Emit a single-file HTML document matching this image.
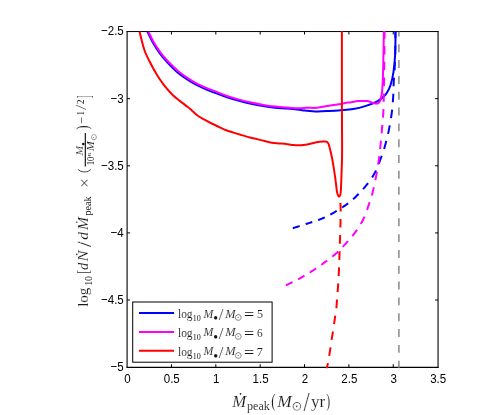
<!DOCTYPE html>
<html><head><meta charset="utf-8"><title>plot</title>
<style>
html,body{margin:0;padding:0;background:#fff;}
svg{display:block;}
.tk{font-family:"Liberation Sans",sans-serif;font-size:13px;fill:#000;}
.rm{font-family:"Liberation Serif",serif;font-style:normal;fill:#181818;stroke:#fff;stroke-width:0.008em;}
.it{font-family:"Liberation Serif",serif;font-style:italic;fill:#181818;stroke:#fff;stroke-width:0.008em;}
.rs{font-family:"Liberation Serif",serif;font-style:normal;fill:#111;}
.sun{font-family:"DejaVu Serif","DejaVu Sans",serif;font-style:normal;}
.ms{font-family:"DejaVu Math TeX Gyre","DejaVu Serif",serif;font-style:normal;fill:#222;stroke:#fff;stroke-width:0.03em;}
</style></head><body>
<svg width="485" height="415" viewBox="0 0 485 415">
<rect x="0" y="0" width="485" height="415" fill="#ffffff"/>
<defs><filter id="gs" filterUnits="userSpaceOnUse" x="0" y="0" width="485" height="415" color-interpolation-filters="sRGB"><feColorMatrix type="saturate" values="0"/></filter><clipPath id="ax"><rect x="126.65" y="31.30" width="311.85" height="337.00"/></clipPath></defs>

<g stroke="#000" fill="none">
<path d="M126.65,31.55 H438.55" stroke-width="1"/>
<path d="M126.65,367.30 H438.55" stroke-width="1.3"/>
<path d="M127.10,31.05 V367.95" stroke-width="1.1"/>
<path d="M438.05,31.05 V367.95" stroke-width="1.1"/>
<path d="M171.46,367.10 v-2.90 M171.46,31.60 v2.90 M215.82,367.10 v-2.90 M215.82,31.60 v2.90 M260.18,367.10 v-2.90 M260.18,31.60 v2.90 M304.54,367.10 v-2.90 M304.54,31.60 v2.90 M348.90,367.10 v-2.90 M348.90,31.60 v2.90 M393.26,367.10 v-2.90 M393.26,31.60 v2.90 M127.15,98.70 h2.90 M438.00,98.70 h-2.90 M127.15,165.80 h2.90 M438.00,165.80 h-2.90 M127.15,232.90 h2.90 M438.00,232.90 h-2.90 M127.15,300.00 h2.90 M438.00,300.00 h-2.90 " stroke="#000" stroke-width="1"/>
</g>
<g clip-path="url(#ax)" fill="none" stroke-linejoin="round">
<path d="M398.90,31.60 V369.10" stroke="#808080" stroke-width="1.4" stroke-dasharray="7.95 7.87" stroke-dashoffset="3.12"/>
<path d="M147.40,31.60 C148.33,33.47 150.87,39.07 153.00,42.80 C155.13,46.53 157.78,50.72 160.20,54.00 C162.62,57.28 164.70,59.52 167.50,62.50 C170.30,65.48 173.78,69.13 177.00,71.90 C180.22,74.67 183.55,76.93 186.80,79.10 C190.05,81.27 193.30,83.20 196.50,84.90 C199.70,86.60 202.92,87.97 206.00,89.30 C209.08,90.63 211.50,91.58 215.00,92.90 C218.50,94.22 222.98,95.88 227.00,97.20 C231.02,98.52 235.08,99.70 239.10,100.80 C243.12,101.90 247.08,102.92 251.10,103.80 C255.12,104.68 259.18,105.45 263.20,106.10 C267.22,106.75 271.18,107.28 275.20,107.70 C279.22,108.12 283.28,108.25 287.30,108.60 C291.32,108.95 296.35,109.48 299.30,109.80 C302.25,110.12 302.05,110.23 305.00,110.50 C307.95,110.77 312.98,111.32 317.00,111.40 C321.02,111.48 325.08,111.20 329.10,111.00 C333.12,110.80 337.08,110.53 341.10,110.20 C345.12,109.87 349.18,109.68 353.20,109.00 C357.22,108.32 361.18,107.38 365.20,106.10 C369.22,104.82 374.35,102.80 377.30,101.30 C380.25,99.80 381.40,98.35 382.90,97.10 C384.40,95.85 385.03,95.77 386.30,93.80 C387.57,91.83 389.30,88.97 390.50,85.30 C391.70,81.63 392.72,77.13 393.50,71.80 C394.28,66.47 394.87,60.27 395.20,53.30 C395.53,46.33 395.45,33.88 395.50,30.00" stroke="#0000ff" stroke-width="2"/>
<path d="M292.90,228.20 L293.44,228.03 L294.09,227.82 L294.84,227.59 L295.68,227.33 L296.59,227.04 L297.57,226.73 L298.60,226.41 L299.67,226.07 M305.67,224.16 L306.73,223.81 L307.75,223.48 L308.71,223.16 L309.70,222.84 L310.69,222.51 L311.66,222.20 L312.25,222.01 M318.13,220.08 L319.07,219.74 L320.00,219.39 L320.94,219.03 L321.89,218.65 L322.83,218.25 L323.76,217.84 L324.65,217.43 L324.83,217.35 M330.33,214.56 L331.22,214.08 L332.11,213.58 L333.00,213.08 L333.88,212.56 L334.77,212.04 L335.66,211.51 L336.55,210.97 L336.73,210.86 M342.08,207.52 L342.90,206.99 L343.72,206.45 L344.55,205.90 L345.37,205.34 L346.20,204.77 L347.02,204.19 L347.85,203.58 L348.18,203.34 M353.14,199.25 L353.85,198.60 L354.57,197.93 L355.29,197.23 L356.03,196.52 L356.76,195.79 L357.50,195.04 L358.24,194.29 L358.68,193.83 M363.09,189.05 L363.76,188.29 L364.41,187.55 L365.04,186.81 L365.65,186.09 L366.24,185.38 L366.80,184.70 L367.53,183.79 L368.09,183.08 M372.12,177.42 L372.63,176.60 L373.12,175.79 L373.61,174.96 L374.09,174.12 L374.56,173.27 L375.03,172.41 L375.49,171.52 L375.95,170.61 L376.04,170.42 M378.78,163.77 L379.15,162.76 L379.51,161.79 L379.85,160.85 L380.17,159.95 L380.48,159.10 L380.77,158.31 L381.04,157.60 L381.46,156.57 L381.76,155.88 M384.10,149.08 L384.35,148.20 L384.60,147.28 L384.87,146.32 L385.14,145.32 L385.42,144.29 L385.70,143.24 L385.98,142.18 L386.26,141.10 L386.32,140.88 M388.04,133.87 L388.26,132.89 L388.48,131.89 L388.69,130.88 L388.90,129.86 L389.11,128.84 L389.31,127.82 L389.50,126.81 L389.69,125.79 L389.77,125.38 M390.99,118.18 L391.14,117.21 L391.28,116.25 L391.42,115.31 L391.55,114.37 L391.69,113.35 L391.83,112.30 L391.96,111.26 L392.07,110.25 L392.14,109.65 M392.81,102.25 L392.88,101.27 L392.95,100.26 L393.02,99.25 L393.09,98.21 L393.15,97.22 L393.20,96.23 L393.26,95.20 L393.30,94.16 L393.32,93.73 M393.57,86.26 L393.60,85.24 L393.64,84.24 L393.67,83.28 L393.71,82.35 L393.74,81.46 L393.78,80.62 L393.84,79.51 L393.92,78.34 L393.97,77.70 M394.59,70.26 L394.63,69.34 L394.68,68.50 L394.72,67.63 L394.76,66.75 L394.80,65.83 L394.84,64.90 L394.87,63.94 L394.91,62.96 L394.95,61.96 L394.96,61.75 M395.18,54.26 L395.20,53.13 L395.22,52.22 L395.24,51.25 L395.26,50.23 L395.28,49.17 L395.29,48.07 L395.31,46.94 L395.33,45.78 L395.33,45.55 M395.41,38.09 L395.43,37.00 L395.44,35.94 L395.45,34.92 L395.46,33.96 L395.47,33.06 L395.47,32.23 L395.48,31.47 L395.49,30.80 L395.50,30.21 L395.50,30.00 " stroke="#0000ff" stroke-width="2"/>
<path d="M148.40,31.60 C149.32,33.42 151.78,38.88 153.90,42.50 C156.02,46.12 158.68,50.10 161.10,53.30 C163.52,56.50 165.58,58.77 168.40,61.70 C171.22,64.63 174.78,68.17 178.00,70.90 C181.22,73.63 184.48,75.93 187.70,78.10 C190.92,80.27 194.10,82.22 197.30,83.90 C200.50,85.58 203.68,86.87 206.90,88.20 C210.12,89.53 213.25,90.60 216.60,91.90 C219.95,93.20 223.25,94.72 227.00,96.00 C230.75,97.28 235.08,98.52 239.10,99.60 C243.12,100.68 247.08,101.62 251.10,102.50 C255.12,103.38 259.18,104.22 263.20,104.90 C267.22,105.58 271.18,106.15 275.20,106.60 C279.22,107.05 283.28,107.32 287.30,107.60 C291.32,107.88 296.08,108.27 299.30,108.30 C302.52,108.33 303.65,107.88 306.60,107.80 C309.55,107.72 313.25,108.15 317.00,107.80 C320.75,107.45 325.08,106.35 329.10,105.70 C333.12,105.05 338.45,104.35 341.10,103.90 C343.75,103.45 343.32,103.28 345.00,103.00 C346.68,102.72 349.13,102.52 351.20,102.20 C353.27,101.88 355.52,101.32 357.40,101.10 C359.28,100.88 360.85,100.90 362.50,100.90 C364.15,100.90 365.88,100.88 367.30,101.10 C368.72,101.32 369.92,101.85 371.00,102.20 C372.08,102.55 372.70,103.00 373.80,103.20 C374.90,103.40 376.67,103.60 377.60,103.40 C378.53,103.20 378.90,102.65 379.40,102.00 C379.90,101.35 380.17,101.10 380.60,99.50 C381.03,97.90 381.63,95.65 382.00,92.40 C382.37,89.15 382.58,85.12 382.80,80.00 C383.02,74.88 383.12,70.03 383.30,61.70 C383.48,53.37 383.80,35.28 383.90,30.00" stroke="#ff00ff" stroke-width="2"/>
<path d="M285.90,285.30 L286.41,285.05 L287.02,284.76 L287.73,284.42 L288.53,284.05 L289.39,283.64 L290.32,283.20 L291.29,282.74 L292.31,282.25 L292.51,282.15 M298.12,279.32 L299.06,278.81 L299.89,278.35 L300.73,277.89 L301.57,277.41 L302.42,276.92 L303.28,276.43 L304.15,275.92 L304.49,275.72 M309.75,272.53 L310.62,271.98 L311.49,271.43 L312.36,270.87 L313.23,270.31 L314.06,269.77 L314.89,269.22 L315.73,268.66 L316.06,268.43 M321.28,264.81 L322.11,264.21 L322.94,263.62 L323.75,263.02 L324.56,262.43 L325.35,261.84 L326.13,261.26 L326.90,260.68 L327.20,260.45 M332.30,256.59 L333.01,256.03 L333.73,255.46 L334.45,254.87 L335.18,254.25 L335.93,253.60 L336.70,252.90 L337.50,252.16 L338.17,251.52 M342.70,246.87 L343.39,246.13 L344.10,245.38 L344.81,244.60 L345.53,243.82 L346.25,243.02 L346.97,242.21 L347.70,241.40 L347.99,241.07 M352.27,236.07 L352.91,235.30 L353.52,234.54 L354.11,233.81 L354.67,233.09 L355.20,232.40 L355.91,231.45 L356.59,230.52 L357.10,229.79 M360.80,223.96 L361.26,223.13 L361.71,222.31 L362.14,221.49 L362.57,220.67 L362.99,219.84 L363.41,219.01 L363.82,218.17 L364.27,217.23 L364.53,216.64 M367.07,209.85 L367.39,208.88 L367.70,207.94 L367.99,207.02 L368.28,206.13 L368.56,205.28 L368.84,204.47 L369.18,203.50 L369.60,202.27 L369.69,202.03 " stroke="#ff00ff" stroke-width="2"/>
<path d="M371.90,195.40 L372.04,194.82 L372.21,194.10 L372.41,193.26 L372.64,192.31 L372.89,191.28 L373.15,190.18 L373.42,189.04 L373.69,187.88 L373.85,187.19 M375.35,180.15 L375.55,179.17 L375.75,178.17 L375.95,177.16 L376.14,176.15 L376.33,175.12 L376.53,174.09 L376.71,173.05 L376.90,172.00 L376.93,171.81 M378.13,164.58 L378.28,163.57 L378.43,162.56 L378.58,161.53 L378.73,160.51 L378.88,159.47 L379.02,158.43 L379.15,157.42 L379.27,156.45 L379.30,156.26 M380.11,149.08 L380.21,148.07 L380.32,147.05 L380.42,146.04 L380.52,145.02 L380.62,144.01 L380.72,143.00 L380.82,142.00 L380.92,141.00 L380.96,140.59 M381.62,133.35 L381.71,132.34 L381.79,131.33 L381.88,130.33 L381.96,129.32 L382.05,128.31 L382.13,127.31 L382.22,126.30 L382.30,125.29 L382.34,124.89 M382.94,117.58 L383.02,116.57 L383.10,115.56 L383.17,114.56 L383.24,113.56 L383.30,112.57 L383.36,111.58 L383.41,110.59 L383.46,109.56 L383.48,109.15 M383.69,101.78 L383.71,100.79 L383.73,99.80 L383.74,98.83 L383.76,97.87 L383.78,96.93 L383.80,96.00 L383.82,94.95 L383.84,93.97 L383.85,93.41 M383.96,86.11 L383.98,84.92 L384.00,83.60 L384.01,82.80 L384.02,81.99 L384.04,81.15 L384.05,80.30 L384.06,79.42 L384.08,78.53 L384.09,77.61 M384.19,70.22 L384.21,69.14 L384.22,68.03 L384.24,66.90 L384.25,65.76 L384.27,64.59 L384.28,63.40 L384.29,62.19 L384.30,61.70 M384.37,54.51 L384.39,53.38 L384.40,52.24 L384.41,51.07 L384.42,49.90 L384.43,48.72 L384.44,47.54 L384.45,46.36 L384.46,45.89 M384.52,38.65 L384.53,37.61 L384.54,36.61 L384.55,35.64 L384.56,34.72 L384.56,33.84 L384.57,33.02 L384.58,32.25 L384.59,31.54 L384.59,30.89 L384.60,30.31 L384.60,30.21 " stroke="#ff00ff" stroke-width="2"/>
<path d="M139.50,31.60 C140.30,34.62 142.70,44.88 144.30,49.70 C145.90,54.52 147.10,56.48 149.10,60.50 C151.10,64.52 153.88,69.78 156.30,73.80 C158.72,77.82 160.78,80.98 163.60,84.60 C166.42,88.22 169.60,92.08 173.20,95.50 C176.80,98.92 182.40,102.88 185.20,105.10 C188.00,107.32 188.00,107.10 190.00,108.80 C192.00,110.50 194.78,113.50 197.20,115.30 C199.62,117.10 202.08,118.23 204.50,119.60 C206.92,120.97 209.30,122.28 211.70,123.50 C214.10,124.72 216.50,125.78 218.90,126.90 C221.30,128.02 223.68,129.25 226.10,130.20 C228.52,131.15 230.98,131.83 233.40,132.60 C235.82,133.37 237.83,133.98 240.60,134.80 C243.37,135.62 247.23,136.78 250.00,137.50 C252.77,138.22 254.78,138.52 257.20,139.10 C259.62,139.68 262.08,140.40 264.50,141.00 C266.92,141.60 269.30,142.30 271.70,142.70 C274.10,143.10 276.50,143.20 278.90,143.40 C281.30,143.60 283.68,143.62 286.10,143.90 C288.52,144.18 290.98,144.87 293.40,145.10 C295.82,145.33 298.30,145.42 300.60,145.30 C302.90,145.18 304.88,144.82 307.20,144.40 C309.52,143.98 312.45,143.25 314.50,142.80 C316.55,142.35 317.62,141.90 319.50,141.70 C321.38,141.50 324.38,141.38 325.80,141.60 C327.22,141.82 327.43,142.27 328.00,143.00 C328.57,143.73 328.77,144.58 329.20,146.00 C329.63,147.42 330.22,149.92 330.60,151.50 C330.98,153.08 331.08,153.45 331.50,155.50 C331.92,157.55 332.47,160.00 333.10,163.80 C333.73,167.60 334.70,173.97 335.30,178.30 C335.90,182.63 336.32,187.13 336.70,189.80 C337.08,192.47 337.23,193.17 337.60,194.30 C337.97,195.43 338.45,196.52 338.90,196.60 C339.35,196.68 339.97,195.90 340.30,194.80 C340.63,193.70 340.70,193.48 340.90,190.00 C341.10,186.52 341.32,178.98 341.50,173.90 C341.68,168.82 341.90,164.32 342.00,159.50 C342.10,154.68 342.12,154.92 342.10,145.00 C342.08,135.08 341.93,119.17 341.90,100.00 C341.87,80.83 341.90,41.67 341.90,30.00" stroke="#ff0000" stroke-width="2"/>
<path d="M340.23,202.82 L340.37,203.75 L340.49,204.90 L340.57,206.33 L340.61,207.43 L340.63,208.22 L340.64,209.06 L340.65,209.96 L340.65,210.91 L340.65,211.50 M340.57,219.00 L340.55,220.08 L340.53,221.15 L340.52,222.19 L340.50,223.20 L340.48,224.20 L340.45,225.20 L340.43,226.20 L340.40,227.20 L340.39,227.60 M340.13,235.00 L340.10,236.00 L340.07,237.00 L340.03,238.00 L340.00,239.00 L339.97,240.00 L339.94,241.00 L339.91,242.00 L339.88,243.00 L339.85,243.80 M339.63,251.20 L339.59,252.20 L339.56,253.20 L339.53,254.20 L339.49,255.20 L339.46,256.21 L339.42,257.22 L339.39,258.25 L339.35,259.28 L339.33,259.89 M339.05,267.41 L339.01,268.38 L338.97,269.33 L338.93,270.27 L338.89,271.22 L338.84,272.31 L338.79,273.36 L338.74,274.39 L338.70,275.39 L338.67,275.98 M338.24,283.38 L338.17,284.39 L338.11,285.37 L338.03,286.37 L337.96,287.38 L337.88,288.39 L337.80,289.42 L337.71,290.45 L337.63,291.47 L337.58,292.09 M336.99,299.52 L336.91,300.59 L336.84,301.66 L336.77,302.72 L336.70,303.76 L336.63,304.78 L336.57,305.78 L336.49,306.76 L336.42,307.70 L336.37,308.25 M335.30,315.62 L335.12,316.62 L334.94,317.75 L334.80,318.69 L334.67,319.59 L334.53,320.55 L334.39,321.54 L334.25,322.56 L334.11,323.60 L334.05,324.02 M332.97,331.47 L332.80,332.51 L332.63,333.56 L332.46,334.59 L332.29,335.62 L332.12,336.63 L331.95,337.62 L331.79,338.59 L331.63,339.54 L331.57,339.91 M330.51,347.34 L330.37,348.38 L330.20,349.50 L330.06,350.41 L329.91,351.39 L329.75,352.41 L329.59,353.47 L329.42,354.54 L329.25,355.62 L329.22,355.83 M327.93,363.11 L327.70,364.20 L327.48,365.21 L327.27,366.12 L327.09,366.95 L326.93,367.67 L326.62,369.05 L326.45,369.80 L326.40,370.00 " stroke="#ff0000" stroke-width="2"/>
</g>
<g><rect x="132.7" y="302.0" width="139.4" height="60.2" fill="#fff" stroke="#000" stroke-width="1"/><path d="M139.0,313.10 H174.1" stroke="#0000ff" stroke-width="2" fill="none"/><path d="M139.0,331.95 H174.1" stroke="#ff00ff" stroke-width="2" fill="none"/><path d="M139.0,350.80 H174.1" stroke="#ff0000" stroke-width="2" fill="none"/></g>
<g filter="url(#gs)">
<g class="tk">
<text transform="translate(127.35,382.50) scale(0.890,1)" text-anchor="middle">0</text>
<text transform="translate(171.76,382.50) scale(0.890,1)" text-anchor="middle">0.5</text>
<text transform="translate(216.16,382.50) scale(0.890,1)" text-anchor="middle">1</text>
<text transform="translate(260.57,382.50) scale(0.890,1)" text-anchor="middle">1.5</text>
<text transform="translate(304.98,382.50) scale(0.890,1)" text-anchor="middle">2</text>
<text transform="translate(349.39,382.50) scale(0.890,1)" text-anchor="middle">2.5</text>
<text transform="translate(393.79,382.50) scale(0.890,1)" text-anchor="middle">3</text>
<text transform="translate(438.20,382.50) scale(0.890,1)" text-anchor="middle">3.5</text>
<text transform="translate(123.80,35.40) scale(0.890,1)" text-anchor="end">−2.5</text>
<text transform="translate(123.80,102.50) scale(0.890,1)" text-anchor="end">−3</text>
<text transform="translate(123.80,169.60) scale(0.890,1)" text-anchor="end">−3.5</text>
<text transform="translate(123.80,236.70) scale(0.890,1)" text-anchor="end">−4</text>
<text transform="translate(123.80,303.80) scale(0.890,1)" text-anchor="end">−4.5</text>
<text transform="translate(123.80,370.90) scale(0.890,1)" text-anchor="end">−5</text>
</g>
<g><text class="rm" font-size="12.31px" transform="matrix(0.9310 0 0 1.0000 177.97 318.04)">log</text><text class="rs" font-size="8.30px" transform="matrix(0.9720 0 0 1.0000 192.64 320.82)">10</text><text class="it" font-size="12.37px" transform="matrix(0.9530 0 0 1.0000 203.44 317.60)">M</text><text class="rs" font-size="13.85px" transform="matrix(1.0021 0 0 1.0000 213.32 322.83)">•</text><text class="rm" font-size="17.34px" transform="matrix(0.9755 0 0 1.0000 218.80 320.03)">/</text><text class="it" font-size="12.37px" transform="matrix(0.9984 0 0 1.0000 225.24 317.60)">M</text><text class="ms" font-size="9.28px" transform="matrix(1.1017 0 0 1.0000 234.08 320.40)">⊙</text><text class="rs" font-size="17.20px" transform="matrix(1.0495 0 0 1.0000 244.00 320.36)">=</text><text class="rm" font-size="12.49px" transform="matrix(0.9739 0 0 1.0000 256.89 317.78)">5</text><text class="rm" font-size="12.31px" transform="matrix(0.9310 0 0 1.0000 177.97 336.89)">log</text><text class="rs" font-size="8.30px" transform="matrix(0.9720 0 0 1.0000 192.64 339.67)">10</text><text class="it" font-size="12.37px" transform="matrix(0.9530 0 0 1.0000 203.44 336.45)">M</text><text class="rs" font-size="13.85px" transform="matrix(1.0021 0 0 1.0000 213.32 341.68)">•</text><text class="rm" font-size="17.34px" transform="matrix(0.9755 0 0 1.0000 218.80 338.88)">/</text><text class="it" font-size="12.37px" transform="matrix(0.9984 0 0 1.0000 225.24 336.45)">M</text><text class="ms" font-size="9.28px" transform="matrix(1.1017 0 0 1.0000 234.08 339.25)">⊙</text><text class="rs" font-size="17.20px" transform="matrix(1.0495 0 0 1.0000 244.00 339.21)">=</text><text class="rm" font-size="12.35px" transform="matrix(0.9284 0 0 1.0000 257.11 336.63)">6</text><text class="rm" font-size="12.31px" transform="matrix(0.9310 0 0 1.0000 177.97 355.74)">log</text><text class="rs" font-size="8.30px" transform="matrix(0.9720 0 0 1.0000 192.64 358.52)">10</text><text class="it" font-size="12.37px" transform="matrix(0.9530 0 0 1.0000 203.44 355.30)">M</text><text class="rs" font-size="13.85px" transform="matrix(1.0021 0 0 1.0000 213.32 360.53)">•</text><text class="rm" font-size="17.34px" transform="matrix(0.9755 0 0 1.0000 218.80 357.73)">/</text><text class="it" font-size="12.37px" transform="matrix(0.9984 0 0 1.0000 225.24 355.30)">M</text><text class="ms" font-size="9.28px" transform="matrix(1.1017 0 0 1.0000 234.08 358.10)">⊙</text><text class="rs" font-size="17.20px" transform="matrix(1.0495 0 0 1.0000 244.00 358.06)">=</text><text class="rm" font-size="12.68px" transform="matrix(0.9538 0 0 1.0000 256.80 355.60)">7</text></g>
<g><text class="it" font-size="17.56px" transform="matrix(0.9526 0 0 1.0000 232.30 406.50)">Ṁ</text><text class="rm" font-size="12.02px" transform="matrix(1.0045 0 0 1.0000 247.01 409.94)">peak</text><text class="rm" font-size="19.52px" transform="matrix(0.6582 0 0 1.0000 271.34 407.24)">(</text><text class="it" font-size="17.56px" transform="matrix(0.9909 0 0 1.0000 277.20 406.50)">M</text><text class="ms" font-size="13.68px" transform="matrix(0.9885 0 0 1.0000 291.62 410.31)">⊙</text><text class="rm" font-size="26.46px" transform="matrix(0.8298 0 0 1.0000 303.40 411.14)">/</text><text class="rm" font-size="16.45px" transform="matrix(1.0407 0 0 1.0000 310.99 406.95)">yr</text><text class="rm" font-size="19.52px" transform="matrix(0.5984 0 0 1.0000 326.32 407.24)">)</text></g>
<g transform="rotate(-90)"><text class="rm" font-size="14.18px" transform="matrix(1.0588 0 0 1.0000 -306.80 88.14)">log</text><text class="rs" font-size="9.93px" transform="matrix(1.0025 0 0 1.0000 -285.87 91.90)">10</text><text class="rm" font-size="17.16px" transform="matrix(0.6806 0 0 1.0000 -273.67 89.40)">[</text><text class="it" font-size="14.20px" transform="matrix(1.0140 0 0 1.0000 -269.94 88.15)">d</text><text class="it" font-size="14.81px" transform="matrix(1.1052 0 0 1.0000 -261.58 88.00)">Ṅ</text><text class="rm" font-size="20.48px" transform="matrix(1.0545 0 0 1.0000 -246.90 91.20)">/</text><text class="it" font-size="14.20px" transform="matrix(1.1035 0 0 1.0000 -239.87 88.15)">d</text><text class="it" font-size="14.81px" transform="matrix(1.0535 0 0 1.0000 -230.02 88.00)">Ṁ</text><text class="rs" font-size="9.59px" transform="matrix(1.0636 0 0 1.0000 -215.56 90.96)">peak</text><text class="rm" font-size="16.94px" transform="matrix(1.0302 0 0 1.0000 -187.98 90.18)">×</text><text class="rm" font-size="14.78px" transform="matrix(0.8958 0 0 1.0000 -173.08 88.25)">(</text><text class="it" font-size="10.08px" transform="matrix(1.1474 0 0 1.0000 -155.56 82.80)">M</text><text class="rs" font-size="11.33px" transform="matrix(1.0021 0 0 1.0000 -145.94 86.90)">•</text><text class="rs" font-size="9.48px" transform="matrix(0.9048 0 0 1.0000 -165.35 93.81)">10</text><text class="rs" font-size="4.91px" transform="matrix(1.6202 0 0 1.0000 -156.54 90.75)">6</text><text class="it" font-size="10.08px" transform="matrix(1.1919 0 0 1.0000 -151.16 93.90)">M</text><text class="ms" font-size="7.86px" transform="matrix(1.1800 0 0 1.0000 -140.64 95.86)">⊙</text><text class="rm" font-size="15.77px" transform="matrix(0.8394 0 0 1.0000 -129.83 88.34)">)</text><text class="rm" font-size="16.06px" transform="matrix(0.8295 0 0 1.0000 -123.96 86.93)">−</text><text class="rs" font-size="9.39px" transform="matrix(0.8469 0 0 1.0000 -115.20 83.80)">1</text><text class="rm" font-size="13.90px" transform="matrix(1.2945 0 0 1.0000 -109.80 86.36)">/</text><text class="rs" font-size="9.36px" transform="matrix(1.0389 0 0 1.0000 -104.13 83.80)">2</text><text class="rm" font-size="18.97px" transform="matrix(0.4735 0 0 1.0000 -98.22 90.36)">]</text><path d="M-166.6,85.3 H-133.0" stroke="#000" stroke-width="1.1" fill="none"/></g>
</g>
</svg>
</body></html>
